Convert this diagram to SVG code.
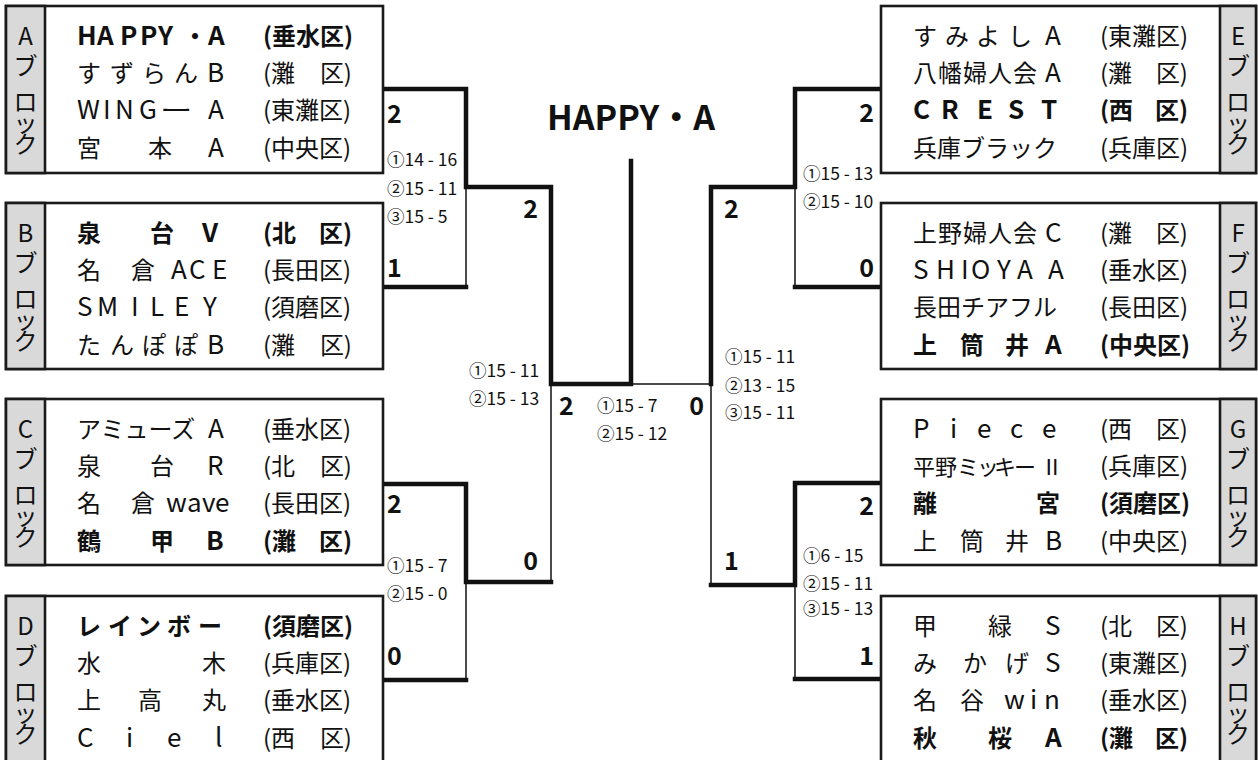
<svg xmlns="http://www.w3.org/2000/svg" width="1258" height="760" viewBox="0 0 1258 760">
<style>
text{font-family:"Noto Sans CJK JP","Noto Sans CJK SC",sans-serif;fill:#111}
.n{font-size:24px}
.L{font-size:26px}
.b{font-weight:700}
.e{text-anchor:end}
.m{text-anchor:middle}
.v{font-size:24px;writing-mode:vertical-rl;font-feature-settings:"vert" 0;letter-spacing:-3px}
.sc{font-size:25px;font-weight:700}
.ss{font-size:17.5px}
.box{fill:#fff;stroke:#1a1a1a;stroke-width:2.6}
.strip{fill:#d9d9d9;stroke:#1a1a1a;stroke-width:2.6}
.thick{fill:none;stroke:#111;stroke-width:4.5;stroke-linecap:square}
.thin{fill:none;stroke:#111;stroke-width:1.5}
</style>
<rect width="1258" height="760" fill="#fff"/>

<g id="connectors">
<path class="thin" d="M466 187V287M466 582V680M551 384V582M711 384V585M795 187V287M795 585V679M631 384H711"/>
<path class="thick" d="M383 89H466V187H551V384H631V161M383 287H466M383 484H466V582H551M383 680H466"/>
<path class="thick" d="M881 89H795V187H711V384M881 287H795M881 483H795V585H711M881 679H795"/>
</g>

<g id="title"><text class="b m" x="631" y="130" style="font-size:34px">HAPPY・A</text></g>

<g id="blockA">
<rect class="box" x="6" y="6" width="377" height="167"/>
<rect class="strip" x="6" y="6" width="39" height="167"/>
<text class="n m" x="25.5" y="45">A</text><text class="v" x="25.5" y="54">ブ</text><text class="v" x="25.5" y="90">ロック</text>
<text class="n b" y="45"><tspan class="L" x="77 97 120 140 158">HAPPY</tspan><tspan x="183">・</tspan><tspan class="L" x="208">A</tspan></text>
<text class="n b" x="263" y="45">(垂水区)</text>
<text class="n" y="82"><tspan x="77 110 142 174">すずらん</tspan><tspan class="L" x="207">B</tspan></text>
<text class="n" x="263" y="82">(灘</text><text class="n e" x="352" y="82">区)</text>
<text class="n" y="119"><tspan class="L" x="77 103 115 139">WING</tspan></text>
<text class="n" transform="translate(160 119) scale(1.35 1)">ー</text>
<text class="n L" x="208" y="119">A</text>
<text class="n" x="263" y="119">(東灘区)</text>
<text class="n" y="157"><tspan x="77 148">宮本</tspan><tspan class="L" x="208">A</tspan></text>
<text class="n" x="263" y="157">(中央区)</text>
</g>

<g id="blockB">
<rect class="box" x="6" y="203" width="377" height="166"/>
<rect class="strip" x="6" y="203" width="39" height="166"/>
<text class="n m" x="25.5" y="242">B</text><text class="v" x="25.5" y="251">ブ</text><text class="v" x="25.5" y="287">ロック</text>
<text class="n b" y="242"><tspan x="77 150">泉台</tspan><tspan class="L" x="202">V</tspan></text>
<text class="n b" x="263" y="242">(北</text><text class="n b e" x="352" y="242">区)</text>
<text class="n" y="279"><tspan x="77 131">名倉</tspan><tspan class="L" x="171 189 212">ACE</tspan></text>
<text class="n" x="263" y="279">(長田区)</text>
<text class="n L" y="316" x="77 97 131 150 174 203">SMILEY</text>
<text class="n" x="263" y="316">(須磨区)</text>
<text class="n" y="354"><tspan x="77 110 142 174">たんぽぽ</tspan><tspan class="L" x="207">B</tspan></text>
<text class="n" x="263" y="354">(灘</text><text class="n e" x="352" y="354">区)</text>
</g>

<g id="blockC">
<rect class="box" x="6" y="399" width="377" height="166"/>
<rect class="strip" x="6" y="399" width="39" height="166"/>
<text class="n m" x="25.5" y="438">C</text><text class="v" x="25.5" y="447">ブ</text><text class="v" x="25.5" y="483">ロック</text>
<text class="n" y="438"><tspan x="77">アミューズ</tspan><tspan class="L" x="208">A</tspan></text>
<text class="n" x="263" y="438">(垂水区)</text>
<text class="n" y="475"><tspan x="77 150">泉台</tspan><tspan class="L" x="207">R</tspan></text>
<text class="n" x="263" y="475">(北</text><text class="n e" x="352" y="475">区)</text>
<text class="n" y="512"><tspan x="77 131">名倉</tspan><tspan class="L" x="166 187 202 215">wave</tspan></text>
<text class="n" x="263" y="512">(長田区)</text>
<text class="n b" y="550"><tspan x="77 150">鶴甲</tspan><tspan class="L" x="206">B</tspan></text>
<text class="n b" x="263" y="550">(灘</text><text class="n b e" x="352" y="550">区)</text>
</g>

<g id="blockD">
<rect class="box" x="6" y="596" width="377" height="168"/>
<rect class="strip" x="6" y="596" width="39" height="168"/>
<text class="n m" x="25.5" y="635">D</text><text class="v" x="25.5" y="644">ブ</text><text class="v" x="25.5" y="680">ロック</text>
<text class="n b" y="635" x="77 108 137 167 198">レインボー</text>
<text class="n b" x="263" y="635">(須磨区)</text>
<text class="n" y="672" x="77 202">水木</text>
<text class="n" x="263" y="672">(兵庫区)</text>
<text class="n" y="709" x="77 138 202">上高丸</text>
<text class="n" x="263" y="709">(垂水区)</text>
<text class="n L" y="747" x="77 126 167 215">Ciel</text>
<text class="n" x="263" y="747">(西</text><text class="n e" x="352" y="747">区)</text>
</g>

<g id="blockE">
<rect class="box" x="881" y="6" width="375" height="167"/>
<rect class="strip" x="1220" y="6" width="36" height="167"/>
<text class="n m" x="1238" y="45">E</text><text class="v" x="1238" y="54">ブ</text><text class="v" x="1238" y="90">ロック</text>
<text class="n" y="45"><tspan x="913 945 976 1008">すみよし</tspan><tspan class="L" x="1045">A</tspan></text>
<text class="n" x="1100" y="45">(東灘区)</text>
<text class="n" y="82"><tspan x="913 938 963 988 1013">八幡婦人会</tspan><tspan class="L" x="1045">A</tspan></text>
<text class="n" x="1100" y="82">(灘</text><text class="n e" x="1188" y="82">区)</text>
<text class="n b L" y="119" x="913 941 977 1008 1041">CREST</text>
<text class="n b" x="1100" y="119">(西</text><text class="n b e" x="1188" y="119">区)</text>
<text class="n" x="913" y="157">兵庫ブラック</text>
<text class="n" x="1100" y="157">(兵庫区)</text>
</g>

<g id="blockF">
<rect class="box" x="881" y="203" width="375" height="166"/>
<rect class="strip" x="1220" y="203" width="36" height="166"/>
<text class="n m" x="1238" y="242">F</text><text class="v" x="1238" y="251">ブ</text><text class="v" x="1238" y="287">ロック</text>
<text class="n" y="242"><tspan x="913 938 963 988 1013">上野婦人会</tspan><tspan class="L" x="1045">C</tspan></text>
<text class="n" x="1100" y="242">(灘</text><text class="n e" x="1188" y="242">区)</text>
<text class="n L" y="279"><tspan x="913 936 961 971 997 1017">SHIOYA</tspan><tspan x="1048">A</tspan></text>
<text class="n" x="1100" y="279">(垂水区)</text>
<text class="n" x="913" y="316">長田チアフル</text>
<text class="n" x="1100" y="316">(長田区)</text>
<text class="n b" y="354"><tspan x="913 960 1005">上筒井</tspan><tspan class="L" x="1045">A</tspan></text>
<text class="n b" x="1100" y="354">(中央区)</text>
</g>

<g id="blockG">
<rect class="box" x="881" y="399" width="375" height="166"/>
<rect class="strip" x="1220" y="399" width="36" height="166"/>
<text class="n m" x="1238" y="438">G</text><text class="v" x="1238" y="447">ブ</text><text class="v" x="1238" y="483">ロック</text>
<text class="n L" y="438" x="913 950 977 1010 1042">Piece</text>
<text class="n" x="1100" y="438">(西</text><text class="n e" x="1188" y="438">区)</text>
<text class="n" y="475" style="font-size:22px" x="913 935 957 977 994 1014 1041">平野ミッキーⅡ</text>
<text class="n" x="1100" y="475">(兵庫区)</text>
<text class="n b" y="512" x="913 1036">離宮</text>
<text class="n b" x="1100" y="512">(須磨区)</text>
<text class="n" y="550"><tspan x="913 960 1005">上筒井</tspan><tspan class="L" x="1045">B</tspan></text>
<text class="n" x="1100" y="550">(中央区)</text>
</g>

<g id="blockH">
<rect class="box" x="881" y="596" width="375" height="168"/>
<rect class="strip" x="1220" y="596" width="36" height="168"/>
<text class="n m" x="1238" y="635">H</text><text class="v" x="1238" y="644">ブ</text><text class="v" x="1238" y="680">ロック</text>
<text class="n" y="635"><tspan x="913 988">甲緑</tspan><tspan class="L" x="1045">S</tspan></text>
<text class="n" x="1100" y="635">(北</text><text class="n e" x="1188" y="635">区)</text>
<text class="n" y="672"><tspan x="913 963 1005">みかげ</tspan><tspan class="L" x="1045">S</tspan></text>
<text class="n" x="1100" y="672">(東灘区)</text>
<text class="n" y="709"><tspan x="913 960">名谷</tspan><tspan class="L" x="1004 1030 1044">win</tspan></text>
<text class="n" x="1100" y="709">(垂水区)</text>
<text class="n b" y="747"><tspan x="913 988">秋桜</tspan><tspan class="L" x="1045">A</tspan></text>
<text class="n b" x="1100" y="747">(灘</text><text class="n b e" x="1188" y="747">区)</text>
</g>

<g id="scores">
<text class="sc" x="387" y="123">2</text>
<text class="sc" x="387" y="277">1</text>
<text class="sc e" x="538" y="218">2</text>
<text class="sc" x="387" y="513">2</text>
<text class="sc" x="387" y="665">0</text>
<text class="sc e" x="538" y="570">0</text>
<text class="sc" x="559" y="415">2</text>
<text class="sc e" x="704" y="415">0</text>
<text class="sc e" x="874" y="122">2</text>
<text class="sc e" x="874" y="277">0</text>
<text class="sc" x="724" y="218">2</text>
<text class="sc" x="724" y="570">1</text>
<text class="sc e" x="874" y="515">2</text>
<text class="sc e" x="874" y="665">1</text>
</g>

<g id="sets">
<text class="ss" x="387" y="166">①14 - 16</text>
<text class="ss" x="387" y="195">②15 - 11</text>
<text class="ss" x="387" y="223">③15 - 5</text>
<text class="ss" x="803" y="180">①15 - 13</text>
<text class="ss" x="803" y="208">②15 - 10</text>
<text class="ss" x="469" y="377">①15 - 11</text>
<text class="ss" x="469" y="405">②15 - 13</text>
<text class="ss" x="725" y="363">①15 - 11</text>
<text class="ss" x="725" y="392">②13 - 15</text>
<text class="ss" x="725" y="419">③15 - 11</text>
<text class="ss" x="597" y="412">①15 - 7</text>
<text class="ss" x="597" y="440">②15 - 12</text>
<text class="ss" x="387" y="572">①15 - 7</text>
<text class="ss" x="387" y="600">②15 - 0</text>
<text class="ss" x="803" y="562">①6 - 15</text>
<text class="ss" x="803" y="590">②15 - 11</text>
<text class="ss" x="803" y="615">③15 - 13</text>
</g>
</svg>
